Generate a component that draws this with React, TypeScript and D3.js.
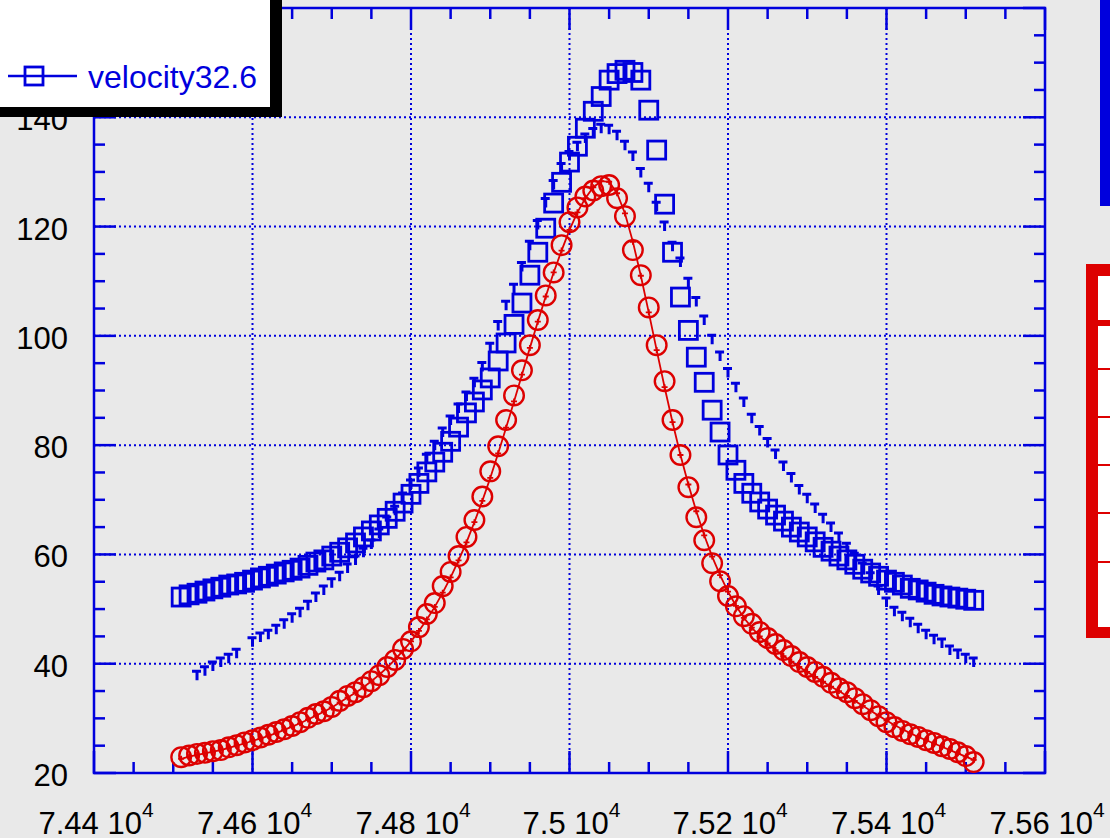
import React from "react";
import * as d3 from "d3";

// sweep frequencies (shared by all series)
const freq = [
  74510, 74520, 74530, 74540, 74550, 74560, 74570, 74580, 74590, 74600,
  74610, 74620, 74630, 74640, 74650, 74660, 74670, 74680, 74690, 74700,
  74710, 74720, 74730, 74740, 74750, 74760, 74770, 74780, 74790, 74800,
  74810, 74820, 74830, 74840, 74850, 74860, 74870, 74880, 74890, 74900,
  74910, 74920, 74930, 74940, 74950, 74960, 74970, 74980, 74990, 75000,
  75010, 75020, 75030, 75040, 75050, 75060, 75070, 75080, 75090, 75100,
  75110, 75120, 75130, 75140, 75150, 75160, 75170, 75180, 75190, 75200,
  75210, 75220, 75230, 75240, 75250, 75260, 75270, 75280, 75290, 75300,
  75310, 75320, 75330, 75340, 75350, 75360, 75370, 75380, 75390, 75400,
  75410, 75420, 75430, 75440, 75450, 75460, 75470, 75480, 75490, 75500,
  75510,
];

// velocity32.6 (blue open squares)
const velocitySquares = [
  52.2, 52.6, 52.9, 53.3, 53.7, 54.0, 54.4, 54.6, 54.9, 55.3,
  55.7, 56.0, 56.4, 56.8, 57.1, 57.5, 58.0, 58.6, 59.0, 59.7,
  60.4, 61.2, 62.1, 63.2, 64.3, 65.4, 66.6, 67.9, 69.4, 71.0,
  73.0, 75.1, 76.9, 78.7, 80.7, 83.3, 85.9, 87.9, 90.1, 92.3,
  95.4, 98.7, 102.1, 106.0, 111.1, 115.3, 119.7, 124.3, 128.1, 131.8,
  134.7, 138.0, 141.1, 143.8, 146.8, 148.0, 148.6, 148.2, 146.8, 141.3,
  134.0, 124.1, 115.3, 107.1, 101.0, 96.1, 91.5, 86.4, 82.4, 78.2,
  75.4, 73.0, 71.2, 69.6, 68.3, 67.2, 66.1, 65.0, 64.1, 63.2,
  62.3, 61.3, 60.6, 59.7, 59.0, 58.2, 57.3, 56.6, 56.0, 55.3,
  54.9, 54.4, 53.8, 53.5, 53.1, 52.7, 52.4, 52.2, 52.0, 51.8,
  51.6,
];

// small blue markers
const velocitySmall = [
  null, null, 37.9, 38.7, 39.6, 40.3, 41.0, 41.9, null, 44.0,
  44.9, 45.4, 46.3, 47.3, 48.4, 49.4, 50.7, 52.2, 53.5, 54.8,
  56.0, 57.5, 59.0, 60.4, 61.9, 63.9, 66.1, 68.1, 70.5, 72.9,
  75.1, 77.6, 80.0, 82.4, 84.6, 86.8, 89.0, 91.5, 94.4, 97.9,
  101.9, 105.6, 108.7, 112.7, 116.6, 120.4, 124.4, 127.7, 130.8, 133.0,
  134.7, 136.2, 137.2, 138.0, 137.8, 136.7, 134.9, 132.9, 129.9, 127.2,
  123.7, 120.1, 116.4, 113.5, 109.8, 106.3, 102.9, 99.4, 96.3, 93.3,
  90.6, 87.9, 84.9, 82.7, 80.5, 78.4, 76.2, 74.1, 71.9, 70.3,
  68.5, 66.6, 65.0, 63.2, 61.3, 59.5, 57.7, 55.9, 53.5, 51.3,
  49.6, 48.7, 47.6, 46.5, 45.4, 44.5, 43.8, 42.5, 41.8, 41.0,
  40.3,
];

// red open circles
const redCircles = [
  22.9, 23.2, 23.5, 23.7, 24.0, 24.2, 24.7, 25.1, 25.6, 26.0,
  26.5, 27.0, 27.5, 28.0, 28.6, 29.3, 30.1, 30.8, 31.3, 32.1,
  33.2, 34.1, 34.8, 35.7, 36.8, 37.9, 39.4, 40.7, 42.7, 44.1,
  46.7, 49.1, 51.1, 54.2, 56.8, 59.7, 63.2, 66.3, 70.6, 75.2,
  79.8, 84.6, 89.1, 93.7, 98.3, 102.9, 107.4, 111.6, 116.6, 120.8,
  123.5, 125.5, 126.6, 127.4, 127.6, 125.2, 121.9, 115.7, 111.1, 105.2,
  98.3, 91.7, 84.6, 78.2, 72.3, 66.8, 62.6, 58.4, 55.1, 52.4,
  50.5, 48.7, 47.3, 45.8, 44.7, 43.6, 42.5, 41.4, 40.3, 39.4,
  38.5, 37.6, 36.5, 35.5, 34.8, 33.7, 32.6, 31.5, 30.4, 29.3,
  28.4, 27.7, 27.1, 26.6, 26.0, 25.5, 24.9, 24.4, 23.8, 23.1,
  22.0,
];

// red thin curve with small crosses
const redCurve = [
  22.6, 23.0, 23.3, 23.6, 23.9, 24.2, 24.6, 25.0, 25.4, 25.9,
  26.3, 26.8, 27.3, 27.9, 28.5, 29.1, 29.8, 30.5, 31.2, 32.0,
  32.9, 33.8, 34.7, 35.7, 36.8, 38.0, 39.3, 40.8, 42.4, 44.1,
  46.0, 48.1, 50.4, 53.0, 55.8, 58.9, 62.2, 65.9, 69.8, 74.0,
  78.5, 83.2, 88.0, 92.9, 97.8, 102.6, 107.2, 111.6, 115.6, 119.4,
  122.6, 125.2, 127.2, 128.3, 128.2, 126.1, 122.4, 117.2, 111.0, 104.3,
  97.4, 90.6, 84.2, 78.2, 72.8, 67.9, 63.5, 59.6, 56.2, 53.2,
  50.6, 48.4, 46.6, 45.0, 43.7, 42.5, 41.4, 40.4, 39.4, 38.5,
  37.6, 36.7, 35.8, 35.0, 34.1, 33.2, 32.3, 31.4, 30.5, 29.6,
  28.8, 28.0, 27.3, 26.6, 26.0, 25.4, 24.8, 24.2, 23.6, 23.0,
  22.4,
];

const xMajor = [74400, 74600, 74800, 75000, 75200, 75400, 75600];
const xLabels = ["7.44", "7.46", "7.48", "7.5", "7.52", "7.54", "7.56"];
const yMajor = [20, 40, 60, 80, 100, 120, 140, 160];
const yLabels = ["20", "40", "60", "80", "100", "120", "140", "160"];
const legendText = "velocity32.6";

const BLUE = "#0000dd";
const RED = "#dd0000";
const BG = "#e9e9e9";
const FONT = "'Liberation Sans', Arial, sans-serif";

const W = 1110,
  H = 838;
const L = 94,
  R = 1045,
  T = 8,
  B = 773;

const x = d3.scaleLinear().domain([74400, 75600]).range([L, R]);
const y = d3.scaleLinear().domain([20, 160]).range([B, T]);

const App = () => {
  const xMinor = d3.range(74400, 75601, 50).filter((v) => !xMajor.includes(v));
  const yMinor = d3.range(20, 161, 5).filter((v) => !yMajor.includes(v));

  const pts = (vals) =>
    freq
      .map((f, i) => ({ f, v: vals[i] }))
      .filter((d) => d.v != null);

  const curve = d3
    .line()
    .x((d) => x(d.f))
    .y((d) => y(d.v));

  return (
    <svg
      width={W}
      height={H}
      style={{ position: "absolute", left: 0, top: 0, display: "block" }}
      fontFamily={FONT}
    >
      <rect x={0} y={0} width={W} height={H} fill={BG} />

      {/* grid */}
      <g stroke={BLUE} strokeWidth={2} strokeDasharray="2,3">
        {xMajor.slice(1, -1).map((v) => (
          <line key={"gx" + v} x1={x(v)} x2={x(v)} y1={T} y2={B} />
        ))}
        {yMajor.slice(1, -1).map((v) => (
          <line key={"gy" + v} x1={L} x2={R} y1={y(v)} y2={y(v)} />
        ))}
      </g>

      {/* ticks */}
      <g stroke={BLUE} strokeWidth={2.5}>
        {xMajor.map((v) => (
          <g key={"xt" + v}>
            <line x1={x(v)} x2={x(v)} y1={B} y2={B - 22} />
            <line x1={x(v)} x2={x(v)} y1={T} y2={T + 22} />
          </g>
        ))}
        {xMinor.map((v) => (
          <g key={"xm" + v}>
            <line x1={x(v)} x2={x(v)} y1={B} y2={B - 11} />
            <line x1={x(v)} x2={x(v)} y1={T} y2={T + 11} />
          </g>
        ))}
        {yMajor.map((v) => (
          <g key={"yt" + v}>
            <line x1={L} x2={L + 22} y1={y(v)} y2={y(v)} />
            <line x1={R} x2={R - 22} y1={y(v)} y2={y(v)} />
          </g>
        ))}
        {yMinor.map((v) => (
          <g key={"ym" + v}>
            <line x1={L} x2={L + 11} y1={y(v)} y2={y(v)} />
            <line x1={R} x2={R - 11} y1={y(v)} y2={y(v)} />
          </g>
        ))}
      </g>
      <rect x={L} y={T} width={R - L} height={B - T} fill="none" stroke={BLUE} strokeWidth={2.5} />

      {/* axis labels */}
      <g fontSize={31} fill="#000">
        {xMajor.map((v, i) => (
          <text key={"xl" + v} x={x(v) + 2} y={834} textAnchor="middle">
            {xLabels[i] + " 10"}
            <tspan fontSize={21} dy={-17}>4</tspan>
          </text>
        ))}
        {yMajor.map((v, i) => (
          <text key={"yl" + v} x={68} y={y(v) + 13} textAnchor="end">
            {yLabels[i]}
          </text>
        ))}
      </g>

      {/* blue squares */}
      <g fill="none" stroke={BLUE} strokeWidth={2.8}>
        {pts(velocitySquares).map((d, i) => (
          <rect key={"sq" + i} x={x(d.f) - 9} y={y(d.v) - 9} width={18} height={18} />
        ))}
      </g>

      {/* small blue markers */}
      <g fill="none" stroke={BLUE} strokeWidth={3}>
        {pts(velocitySmall).map((d, i) => {
          const cx = x(d.f),
            cy = y(d.v);
          return (
            <path
              key={"sm" + i}
              d={`M${cx - 5},${cy - 4}H${cx + 4}M${cx},${cy - 4}V${cy + 5}`}
            />
          );
        })}
      </g>

      {/* red circles */}
      <g fill="none" stroke={RED} strokeWidth={2.4}>
        {pts(redCircles).map((d, i) => (
          <circle key={"rc" + i} cx={x(d.f)} cy={y(d.v)} r={9.8} />
        ))}
      </g>

      {/* red curve */}
      <path d={curve(pts(redCurve))} fill="none" stroke={RED} strokeWidth={1.8} />
      <g stroke={RED} strokeWidth={1.8}>
        {pts(redCurve).map((d, i) => {
          const cx = x(d.f),
            cy = y(d.v);
          return (
            <path key={"rx" + i} d={`M${cx - 3},${cy}H${cx + 3}M${cx},${cy - 3}V${cy + 3}`} />
          );
        })}
      </g>

      {/* legend */}
      <rect x={0} y={0} width={282} height={117} fill="#000" />
      <rect x={0} y={0} width={270} height={107} fill="#fff" />
      <line x1={8} x2={77} y1={76} y2={76} stroke={BLUE} strokeWidth={2.5} />
      <rect x={25} y={67} width={18} height={18} fill="none" stroke={BLUE} strokeWidth={2.8} />
      <text x={88} y={88} fontSize={32} fill={BLUE}>
        {legendText}
      </text>

      {/* neighbouring boxes cut by the window */}
      <rect x={1100} y={0} width={10} height={206} fill={BLUE} />
      <rect x={1086} y={264} width={30} height={374} fill={RED} />
      <rect x={1098} y={276} width={20} height={351} fill="#fff" />
      <rect x={1098} y={320} width={20} height={6} fill={RED} />
      {[368, 416, 464, 512, 561].map((yy) => (
        <rect key={"sep" + yy} x={1098} y={yy} width={20} height={2} fill={RED} />
      ))}
    </svg>
  );
};

export default App;
